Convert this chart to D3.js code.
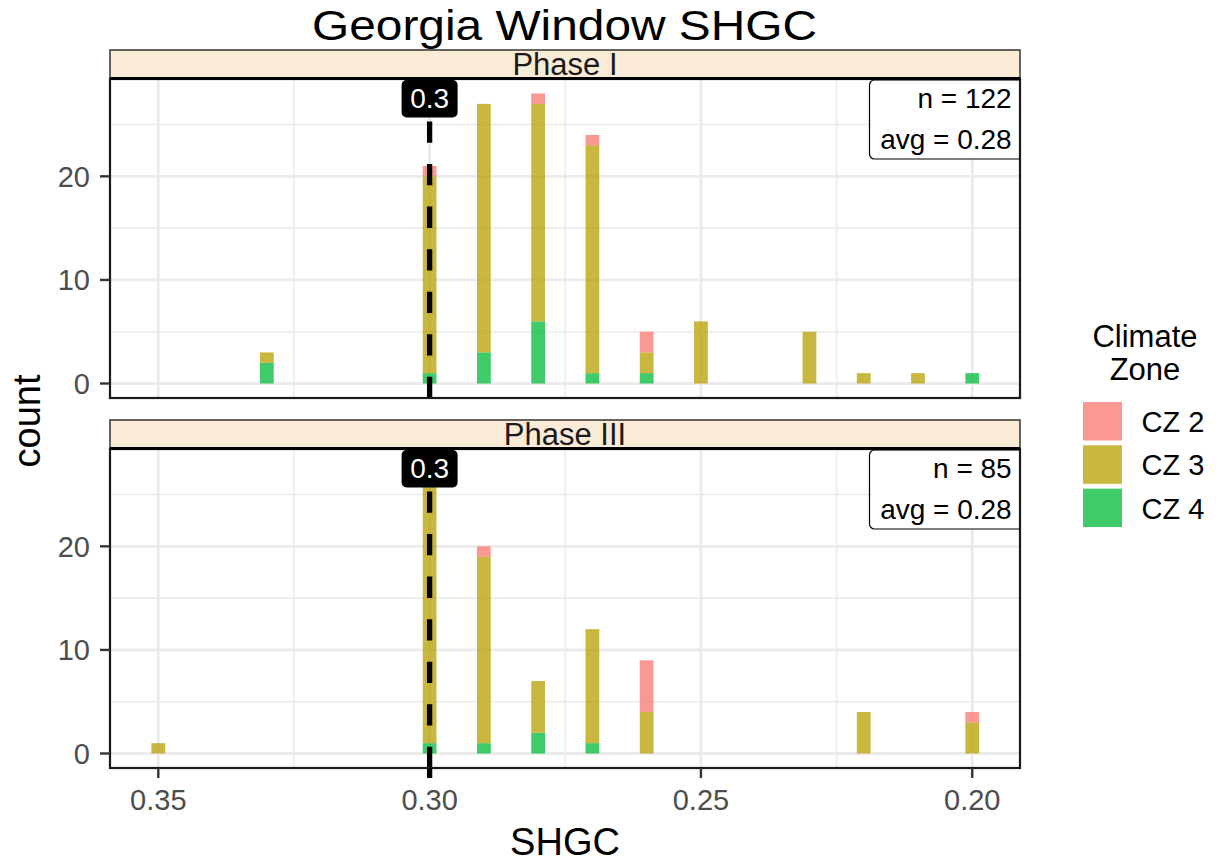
<!DOCTYPE html>
<html><head><meta charset="utf-8">
<script src="https://cdn.jsdelivr.net/npm/d3@7"></script>
<style>body{margin:0;background:#fff;} text{font-family:"Liberation Sans",Arial,Helvetica,sans-serif;}</style>
</head><body><svg id="c" width="1221" height="862"></svg>
<script>
// ---- data ----
const shgcBins = [0.35, 0.33, 0.30, 0.29, 0.28, 0.27, 0.26, 0.25, 0.23, 0.22, 0.21, 0.20];
const zones = ["CZ 2", "CZ 3", "CZ 4"];
const phases = ["Phase I", "Phase III"];
const phase1CZ2 = [0, 0, 1, 0, 1, 1, 2, 0, 0, 0, 0, 0];
const phase1CZ3 = [0, 1, 19, 24, 21, 22, 2, 6, 5, 1, 1, 0];
const phase1CZ4 = [0, 2, 1, 3, 6, 1, 1, 0, 0, 0, 0, 1];
const phase3CZ2 = [0, 0, 0, 1, 0, 0, 5, 0, 0, 0, 0, 1];
const phase3CZ3 = [1, 0, 27, 18, 5, 11, 4, 0, 0, 4, 0, 3];
const phase3CZ4 = [0, 0, 1, 1, 2, 1, 0, 0, 0, 0, 0, 0];
const targetValue = 0.3;
const targetLabel = "0.3";
const statN = [122, 85];
const statAvg = ["0.28", "0.28"];
const xTicks = [0.35, 0.30, 0.25, 0.20];
const xTickLabels = ["0.35", "0.30", "0.25", "0.20"];
const xMinor = [0.325, 0.275, 0.225];
const yTicks = [0, 10, 20];
const yMinor = [5, 15, 25];
const binWidth = 0.00254;

const phaseData = [
  {phase: phases[0], cz2: phase1CZ2, cz3: phase1CZ3, cz4: phase1CZ4},
  {phase: phases[1], cz2: phase3CZ2, cz3: phase3CZ3, cz4: phase3CZ4}
];
const colors = {"CZ 2": "#F8766D", "CZ 3": "#B79F00", "CZ 4": "#00BA38"};

// ---- layout ----
const svg = d3.select("#c");
const left = 110, right = 1020;
const panels = [{stripTop: 50, top: 79, bottom: 398}, {stripTop: 420, top: 449, bottom: 768}];
const x = d3.scaleLinear().domain([0.3589, 0.1912]).range([left, right]);
const yMaxAll = d3.max(phaseData, p => d3.max(shgcBins.map((_, i) => p.cz2[i] + p.cz3[i] + p.cz4[i])));
const yDom = [-0.05 * yMaxAll, yMaxAll * 1.05];

const defs = svg.append("defs");

// title
svg.append("text").attr("x", 564.5).attr("y", 40).attr("text-anchor", "middle")
  .attr("font-size", 42).attr("fill", "#000")
  .attr("textLength", 505).attr("lengthAdjust", "spacingAndGlyphs")
  .text("Georgia Window SHGC");

phaseData.forEach((pd, pi) => {
  const P = panels[pi];
  const y = d3.scaleLinear().domain(yDom).range([P.bottom, P.top]);
  const g = svg.append("g");
  defs.append("clipPath").attr("id", "clip" + pi).append("rect")
    .attr("x", left).attr("y", P.top).attr("width", right - left).attr("height", P.bottom - P.top);

  // grid
  const grid = g.append("g").attr("clip-path", `url(#clip${pi})`);
  grid.selectAll(".ymin").data(yMinor).join("line")
    .attr("x1", left).attr("x2", right).attr("y1", d => y(d)).attr("y2", d => y(d))
    .attr("stroke", "#EBEBEB").attr("stroke-width", 1.6);
  grid.selectAll(".xmin").data(xMinor).join("line")
    .attr("y1", P.top).attr("y2", P.bottom).attr("x1", d => x(d)).attr("x2", d => x(d))
    .attr("stroke", "#EBEBEB").attr("stroke-width", 1.6);
  grid.selectAll(".ymaj").data(yTicks).join("line")
    .attr("x1", left).attr("x2", right).attr("y1", d => y(d)).attr("y2", d => y(d))
    .attr("stroke", "#EBEBEB").attr("stroke-width", 2.8);
  grid.selectAll(".xmaj").data(xTicks).join("line")
    .attr("y1", P.top).attr("y2", P.bottom).attr("x1", d => x(d)).attr("x2", d => x(d))
    .attr("stroke", "#EBEBEB").attr("stroke-width", 2.8);

  // stacked bars
  const rows = shgcBins.map((b, i) => ({bin: b, "CZ 2": pd.cz2[i], "CZ 3": pd.cz3[i], "CZ 4": pd.cz4[i]}));
  const stack = d3.stack().keys(["CZ 4", "CZ 3", "CZ 2"])(rows);
  const bw = Math.abs(x(0) - x(binWidth));
  const bars = g.append("g").attr("clip-path", `url(#clip${pi})`);
  stack.forEach(layer => {
    bars.selectAll(null).data(layer.filter(d => d[1] > d[0])).join("rect")
      .attr("x", d => x(d.data.bin) - bw / 2).attr("width", bw)
      .attr("y", d => y(d[1])).attr("height", d => y(d[0]) - y(d[1]))
      .attr("fill", colors[layer.key]).attr("fill-opacity", 0.75);
  });

  // dashed target line
  bars.append("line").attr("x1", x(targetValue)).attr("x2", x(targetValue))
    .attr("y1", P.top).attr("y2", P.bottom)
    .attr("stroke", "#000").attr("stroke-width", 5.3).attr("stroke-dasharray", "21.27 21.27");

  // target label
  const lx = x(targetValue);
  g.append("rect").attr("x", lx - 28).attr("y", P.top + 1).attr("width", 56).attr("height", 37.5)
    .attr("rx", 5).attr("fill", "#000");
  g.append("text").attr("x", lx).attr("y", P.top + 29.3).attr("text-anchor", "middle")
    .attr("font-size", 28).attr("fill", "#fff").text(targetLabel);

  // stats label
  const sg = g.append("g").attr("clip-path", `url(#clip${pi})`);
  sg.append("rect").attr("x", 869.5).attr("y", P.top + 1).attr("width", 160).attr("height", 79)
    .attr("rx", 5).attr("fill", "#fff").attr("stroke", "#000").attr("stroke-width", 1.2);
  sg.append("text").attr("x", 1011.7).attr("y", P.top + 28.5).attr("text-anchor", "end")
    .attr("font-size", 28).attr("fill", "#000").text(`n = ${statN[pi]}`);
  sg.append("text").attr("x", 1011.7).attr("y", P.top + 69.5).attr("text-anchor", "end")
    .attr("font-size", 28).attr("fill", "#000").text(`avg = ${statAvg[pi]}`);

  // strip
  g.append("rect").attr("x", left).attr("y", P.stripTop).attr("width", right - left).attr("height", P.top - P.stripTop)
    .attr("fill", "#FAEBD7").attr("stroke", "#333").attr("stroke-width", 1.5);
  g.append("text").attr("x", 565).attr("y", P.stripTop + 25).attr("text-anchor", "middle")
    .attr("font-size", 31).attr("fill", "#1A1A1A").text(pd.phase);

  // panel border
  g.append("rect").attr("x", left).attr("y", P.top).attr("width", right - left).attr("height", P.bottom - P.top)
    .attr("fill", "none").attr("stroke", "#1A1A1A").attr("stroke-width", 2.2);
  g.append("line").attr("x1", left).attr("x2", right).attr("y1", P.top - 0.5).attr("y2", P.top - 0.5)
    .attr("stroke", "#000").attr("stroke-width", 3);

  // y axis
  const ya = g.append("g");
  ya.selectAll("line").data(yTicks).join("line")
    .attr("x1", left - 10).attr("x2", left).attr("y1", d => y(d)).attr("y2", d => y(d))
    .attr("stroke", "#333").attr("stroke-width", 2.4);
  ya.selectAll("text").data(yTicks).join("text")
    .attr("x", 90).attr("y", d => y(d) + 10.5).attr("text-anchor", "end")
    .attr("font-size", 29).attr("fill", "#4D4D4D").text(d => d);

  if (pi === phaseData.length - 1) {
    const xa = g.append("g");
    xa.selectAll("line").data(xTicks).join("line")
      .attr("x1", d => x(d)).attr("x2", d => x(d)).attr("y1", P.bottom).attr("y2", P.bottom + 10)
      .attr("stroke", d => d === targetValue ? "#000" : "#333")
      .attr("stroke-width", d => d === targetValue ? 5.3 : 2.4);
    xa.selectAll("text").data(xTicks).join("text")
      .attr("x", d => x(d)).attr("y", P.bottom + 42).attr("text-anchor", "middle")
      .attr("font-size", 29).attr("fill", "#4D4D4D").text((d, i) => xTickLabels[i]);
  }
});

// axis titles
svg.append("text").attr("x", 565).attr("y", 855).attr("text-anchor", "middle")
  .attr("font-size", 38).attr("fill", "#000").text("SHGC");
svg.append("text").attr("transform", "translate(40,421) rotate(-90)").attr("text-anchor", "middle")
  .attr("font-size", 38).attr("fill", "#000").text("count");

// legend
const lg = svg.append("g");
lg.append("text").attr("x", 1145).attr("y", 346.7).attr("text-anchor", "middle")
  .attr("font-size", 31).attr("fill", "#000").text("Climate");
lg.append("text").attr("x", 1145).attr("y", 380).attr("text-anchor", "middle")
  .attr("font-size", 31).attr("fill", "#000").text("Zone");
zones.forEach((z, i) => {
  const ky = 401.5 + i * 43.3;
  lg.append("rect").attr("x", 1082.5).attr("y", ky).attr("width", 40).attr("height", 39.5)
    .attr("fill", colors[z]).attr("fill-opacity", 0.75).attr("stroke", "#fff").attr("stroke-width", 1);
  lg.append("text").attr("x", 1141.5).attr("y", ky + 30.5).attr("font-size", 29).attr("fill", "#000").text(z);
});
</script></body></html>
